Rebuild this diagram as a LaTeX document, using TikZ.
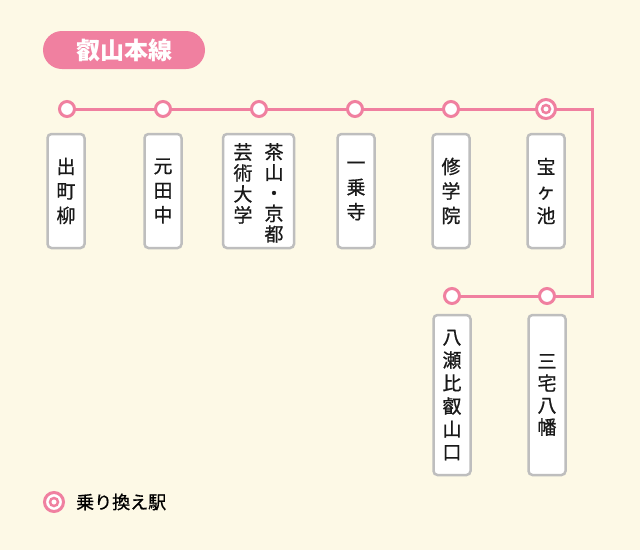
\documentclass[tikz,border=0pt]{standalone}
\usepackage{fontspec}
\newfontfamily\jp[FakeBold=0.8]{Noto Sans CJK JP}
\newfontfamily\jpb{Noto Sans CJK JP}
\definecolor{bgcream}{RGB}{253,249,230}
\definecolor{linepink}{RGB}{240,128,160}
\definecolor{boxgray}{RGB}{190,190,190}
\tikzset{
  stn/.style={circle,draw=linepink,line width=3pt,fill=white,minimum size=15pt,inner sep=0pt},
  xfer/.style={circle,draw=linepink,line width=3pt,fill=white,minimum size=19pt,inner sep=0pt},
  xferdot/.style={circle,draw=linepink,line width=2.5pt,fill=white,minimum size=8pt,inner sep=0pt},
  namebox/.style={draw=boxgray,line width=2.5pt,fill=white,rounded corners=4pt,
    minimum width=37pt,inner sep=0pt},
  nametext/.style={font=\jp\fontsize{19}{24.5}\selectfont,align=center,inner sep=0pt,text=black!90},
}
\begin{document}
\begin{tikzpicture}[x=1pt,y=-1pt]
\fill[bgcream] (0,0) rectangle (640,550);
\useasboundingbox (0,0) rectangle (640,550);
% line name
\node[fill=linepink,rounded corners=19pt,minimum width=162pt,minimum height=38pt,
  text=white,font=\jpb\bfseries\fontsize{24}{24}\selectfont] (title) at (124,50) {叡山本線};
% track
\coordinate (p1) at (67,109);
\coordinate (p2) at (163,109);
\coordinate (p3) at (259,109);
\coordinate (p4) at (355,109);
\coordinate (p5) at (451,109);
\coordinate (p6) at (546,109);
\coordinate (c1) at (592,109);
\coordinate (c2) at (592,296);
\coordinate (p7) at (547,296);
\coordinate (p8) at (452,296);
\draw[linepink,line width=3pt] (p1) -- (c1) -- (c2) -- (p8);
\node[stn] (s1) at (p1) {};
\node[stn] (s2) at (p2) {};
\node[stn] (s3) at (p3) {};
\node[stn] (s4) at (p4) {};
\node[stn] (s5) at (p5) {};
\node[xfer] (s6) at (p6) {};
\node[xferdot] (s6in) at (p6) {};
\node[stn] (s7) at (p7) {};
\node[stn] (s8) at (p8) {};
% station names
\node[namebox,minimum height=114pt] (b1) at (66,191) {};
\node[nametext] (n1) at (b1) {出\\町\\柳};
\node[namebox,minimum height=114pt] (b2) at (163,191) {};
\node[nametext] (n2) at (b2) {元\\田\\中};
\node[namebox,minimum height=114pt,minimum width=71pt] (b3) at (258.5,191) {};
\node[nametext,anchor=north,font=\jp\fontsize{19}{20.5}\selectfont] (n3a) at (274,143) {茶\\山\\・\\京\\都};
\node[nametext,anchor=north,font=\jp\fontsize{19}{21}\selectfont] (n3b) at (243,143) {芸\\術\\大\\学};
\node[namebox,minimum height=114pt] (b4) at (356,191) {};
\node[nametext] (n4) at (b4) {一\\乗\\寺};
\node[namebox,minimum height=114pt] (b5) at (451,191) {};
\node[nametext] (n5) at (b5) {修\\学\\院};
\node[namebox,minimum height=114pt] (b6) at (546,191) {};
\node[nametext] (n6) at (b6) {宝\\ヶ\\池};
\node[namebox,minimum height=160pt] (b8) at (452,395) {};
\node[nametext,font=\jp\fontsize{19}{23}\selectfont] (n8) at (b8) {八\\瀬\\比\\叡\\山\\口};
\node[namebox,minimum height=160pt] (b7) at (547,395) {};
\node[nametext,font=\jp\fontsize{19}{22}\selectfont] (n7) at (b7) {三\\宅\\八\\幡};
% legend
\node[xfer] (lg) at (54,502) {};
\node[xferdot] (lgin) at (54,502) {};
\node[anchor=west,inner sep=0pt,font=\jp\fontsize{18}{18}\selectfont] (lgtext) at (76,502) {乗り換え駅};
\end{tikzpicture}
\end{document}
